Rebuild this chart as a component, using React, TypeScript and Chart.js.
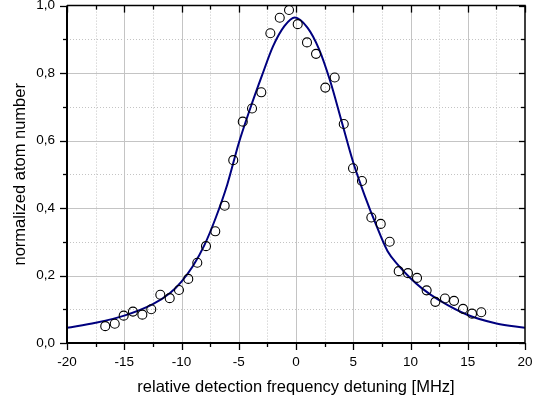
import React, { useEffect, useRef } from "react";
import { Chart, registerables } from "chart.js";

Chart.register(...registerables);

// Measured data points (open circles)
const detuning = [
  -16.66, -15.83, -15.05, -14.24, -13.42, -12.64, -11.85, -11.03, -10.22, -9.41,
  -8.62, -7.86, -7.05, -6.23, -5.48, -4.65, -3.84, -3.03, -2.24, -1.42,
  -0.61, 0.15, 0.96, 1.75, 2.56, 3.38, 4.17, 4.98, 5.76, 6.58,
  7.4, 8.18, 8.97, 9.78, 10.57, 11.41, 12.17, 13.01, 13.8, 14.59,
  15.37, 16.18,
];
const atomNumber = [
  0.05, 0.057, 0.081, 0.093, 0.084, 0.1, 0.143, 0.133, 0.157, 0.19,
  0.238, 0.287, 0.331, 0.407, 0.542, 0.656, 0.695, 0.743, 0.918, 0.964,
  0.987, 0.945, 0.891, 0.857, 0.757, 0.787, 0.649, 0.518, 0.48, 0.372,
  0.353, 0.3, 0.213, 0.207, 0.193, 0.156, 0.122, 0.132, 0.125, 0.101,
  0.087, 0.091,
];

// Fit curve
const fitDetuning = [
  -20, -17.5, -15, -12.5, -11, -10, -9, -8, -7, -6, -5, -4, -3, -2, -1, -0.1,
  1, 2, 3, 4, 5, 6, 7, 8, 9, 10, 11, 12.5, 15, 17.5, 20,
];
const fitAtomNumber = [
  0.045, 0.06, 0.081, 0.115, 0.148, 0.182, 0.228, 0.29, 0.372, 0.47, 0.592, 0.695, 0.79, 0.88, 0.94, 0.965,
  0.935, 0.872, 0.775, 0.655, 0.535, 0.437, 0.35, 0.272, 0.228, 0.192, 0.162, 0.127, 0.083, 0.058, 0.045,
];

const xTitle = "relative detection frequency detuning [MHz]";
const yTitle = "normalized atom number";
const xMin = -20, xMax = 20, xStep = 5;
const yMin = 0, yMax = 1, yStep = 0.2;

const FONT = "Arial, 'Liberation Sans', Helvetica, sans-serif";

const framePlugin = {
  id: "frameGrid",
  beforeDatasetsDraw(chart: any) {
    const { ctx, chartArea, scales } = chart;
    const { left, right, top, bottom } = chartArea;
    const x = scales.x, y = scales.y;
    ctx.save();
    ctx.lineWidth = 1;
    // minor grid (dotted)
    ctx.strokeStyle = "#c4c4c4";
    ctx.setLineDash([1, 2]);
    for (let v = xMin + xStep / 2; v < xMax; v += xStep) {
      const p = Math.round(x.getPixelForValue(v)) + 0.5;
      ctx.beginPath(); ctx.moveTo(p, top); ctx.lineTo(p, bottom); ctx.stroke();
    }
    for (let v = yMin + yStep / 2; v < yMax; v += yStep) {
      const p = Math.round(y.getPixelForValue(v)) + 0.5;
      ctx.beginPath(); ctx.moveTo(left, p); ctx.lineTo(right, p); ctx.stroke();
    }
    // major grid (solid)
    ctx.setLineDash([]);
    ctx.strokeStyle = "#c4c4c4";
    for (let v = xMin + xStep; v < xMax - 1e-9; v += xStep) {
      const p = Math.round(x.getPixelForValue(v)) + 0.5;
      ctx.beginPath(); ctx.moveTo(p, top); ctx.lineTo(p, bottom); ctx.stroke();
    }
    for (let v = yMin + yStep; v < yMax - 1e-9; v += yStep) {
      const p = Math.round(y.getPixelForValue(v)) + 0.5;
      ctx.beginPath(); ctx.moveTo(left, p); ctx.lineTo(right, p); ctx.stroke();
    }
    ctx.restore();
  },
  afterDatasetsDraw(chart: any) {
    const { ctx, chartArea, scales } = chart;
    const { left, right, top, bottom } = chartArea;
    const x = scales.x, y = scales.y;
    ctx.save();
    ctx.strokeStyle = "#000";
    ctx.setLineDash([]);
    // ticks
    ctx.lineWidth = 1.3;
    for (let v = xMin, i = 0; v <= xMax + 1e-9; v += xStep / 2, i++) {
      const major = i % 2 === 0;
      const p = Math.round(x.getPixelForValue(v)) + 0.5;
      ctx.beginPath(); ctx.moveTo(p, bottom); ctx.lineTo(p, bottom + (major ? 7 : 4)); ctx.stroke();
      ctx.beginPath(); ctx.moveTo(p, top); ctx.lineTo(p, top + (major ? 7 : 4)); ctx.stroke();
    }
    for (let v = yMin, i = 0; v <= yMax + 1e-9; v += yStep / 2, i++) {
      const major = i % 2 === 0;
      const p = Math.round(y.getPixelForValue(v)) + 0.5;
      ctx.beginPath(); ctx.moveTo(left, p); ctx.lineTo(left - (major ? 7 : 4), p); ctx.stroke();
      ctx.beginPath(); ctx.moveTo(right, p); ctx.lineTo(right - (major ? 6 : 4), p); ctx.stroke();
    }
    // frame
    ctx.lineWidth = 1.5;
    ctx.beginPath(); ctx.moveTo(left, top); ctx.lineTo(right, top); ctx.lineTo(right, bottom); ctx.stroke();
    ctx.lineWidth = 2;
    ctx.beginPath(); ctx.moveTo(left, top); ctx.lineTo(left, bottom); ctx.lineTo(right, bottom); ctx.stroke();
    ctx.restore();
  },
};

export default function App() {
  const canvasRef = useRef<HTMLCanvasElement>(null);

  useEffect(() => {
    if (!canvasRef.current) return;
    const chart = new Chart(canvasRef.current, {
      type: "scatter",
      data: {
        datasets: [
          {
            type: "scatter",
            label: "data",
            data: detuning.map((d, i) => ({ x: d, y: atomNumber[i] })),
            pointRadius: 4.5,
            pointHoverRadius: 4.5,
            pointBorderWidth: 1.1,
            pointBorderColor: "#000",
            pointBackgroundColor: "rgba(0,0,0,0)",
            showLine: false,
            order: 0,
          },
          {
            type: "line",
            label: "fit",
            data: fitDetuning.map((d, i) => ({ x: d, y: fitAtomNumber[i] })),
            borderColor: "#00007f",
            borderWidth: 2,
            pointRadius: 0,
            fill: false,
            cubicInterpolationMode: "monotone",
            order: 1,
          } as any,
        ],
      },
      options: {
        responsive: false,
        animation: false,
        events: [],
        layout: { padding: { top: 5, right: 8, left: 0, bottom: 0 } },
        plugins: { legend: { display: false }, tooltip: { enabled: false } },
        scales: {
          x: {
            type: "linear",
            min: xMin,
            max: xMax,
            grid: { display: false, drawTicks: false },
            border: { display: false },
            ticks: {
              stepSize: xStep,
              color: "#000",
              font: { family: FONT, size: 13.5 },
              padding: 11,
              maxRotation: 0,
            },
            title: {
              display: true,
              text: xTitle,
              color: "#000",
              font: { family: FONT, size: 16.5 },
              padding: { top: 0, bottom: 6 },
            },
            afterFit: (s: any) => { s.height = 60; s.paddingLeft = 0; s.paddingRight = 0; },
          },
          y: {
            type: "linear",
            min: yMin,
            max: yMax,
            grid: { display: false, drawTicks: false },
            border: { display: false },
            ticks: {
              stepSize: yStep,
              color: "#000",
              font: { family: FONT, size: 13.5 },
              padding: 12,
              callback: (v: any) => Number(v).toFixed(1).replace(".", ","),
            },
            title: {
              display: true,
              text: yTitle,
              color: "#000",
              font: { family: FONT, size: 16.5 },
              padding: { top: 11, bottom: 0 },
            },
            afterFit: (s: any) => { s.width = 67; s.paddingTop = 0; s.paddingBottom = 0; },
          },
        },
      } as any,
      plugins: [framePlugin],
    });
    return () => chart.destroy();
  }, []);

  return (
    <div style={{ position: "fixed", left: 0, top: 0, width: 533, height: 403, background: "#fff" }}>
      <canvas ref={canvasRef} width={533} height={403} style={{ display: "block" }} />
    </div>
  );
}
